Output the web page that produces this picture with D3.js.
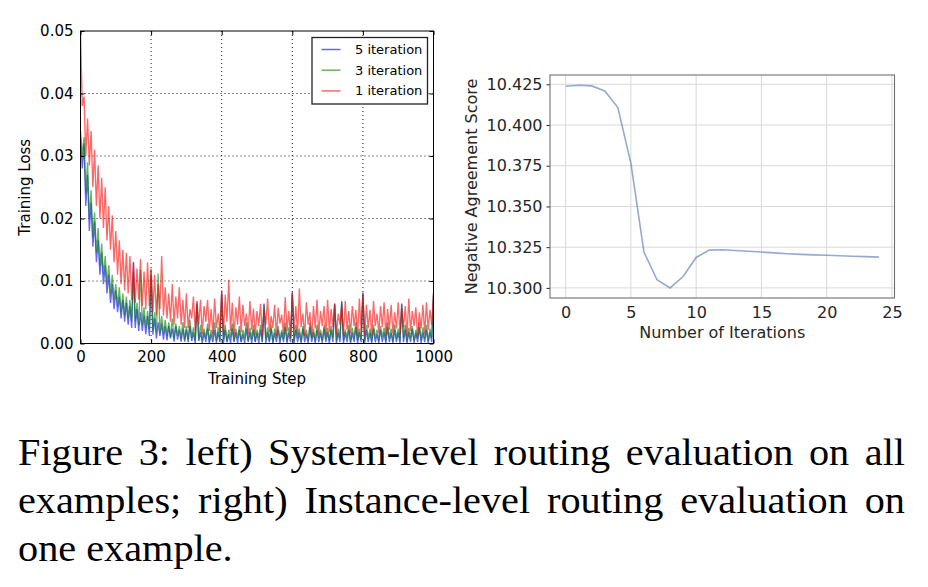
<!DOCTYPE html>
<html>
<head>
<meta charset="utf-8">
<script src="https://cdn.jsdelivr.net/npm/d3@7"></script>
<style>
body{margin:0;background:#fff}
svg{display:block}
</style>
</head>
<body>
<svg id="fig" width="928" height="587"></svg>
<script>
// ---- left panel: training loss (values in units of 1e-4, one every 5 steps)
const lossUnit = 1e-4;
const steps = d3.range(0, 1001, 5);
const stepTicks = [0, 200, 400, 600, 800, 1000];
const lossTicks = [0, 0.01, 0.02, 0.03, 0.04, 0.05];
const seriesNames = ['5 iteration', '3 iteration', '1 iteration'];

const loss5 = [330,280,320,220,270,180,225,155,195,130,165,110,145,95,125,80,110,65,95,55,
 85,50,75,40,70,35,65,30,60,25,130,25,55,20,50,20,45,15,44,12,
 108,14,40,8,34,12,32,6,28,5,28,8,24,3,28,6,22,3,24,3,
 22,2,28,4,18,1,68,4,18,1,18,2,24,1,15,2,22,1,18,2,
 82,1,22,2,15,1,24,2,18,1,22,2,15,1,24,2,18,1,22,2,
 17,1,22,2,64,1,18,2,24,1,17,2,22,1,18,2,26,1,17,2,
 82,1,22,2,17,1,24,2,15,1,26,2,18,1,22,2,17,1,24,2,
 18,1,22,2,64,1,17,2,68,1,18,2,22,1,17,2,26,1,18,2,
 82,1,22,2,17,1,24,2,15,1,22,2,18,1,26,2,17,1,22,2,
 18,1,64,2,22,1,18,2,24,1,17,2,26,1,18,2,22,1,18,2,
 82];
const loss3 = [340,300,330,240,290,200,245,170,210,145,185,125,160,110,140,95,125,80,110,70,
 95,60,90,50,80,45,75,40,70,35,115,35,65,30,118,30,58,25,52,22,
 118,20,50,18,112,16,44,15,38,12,34,10,40,8,32,12,28,8,34,6,
 28,6,38,9,26,4,62,6,30,4,24,8,32,3,22,10,34,4,26,5,
 78,6,30,3,22,10,32,4,24,8,28,3,22,9,34,4,25,7,30,3,
 22,9,30,3,62,6,26,4,30,2,24,9,28,4,22,7,34,3,26,8,
 78,4,30,9,24,3,28,10,22,4,34,8,24,3,30,9,22,4,30,7,
 25,4,28,9,62,3,24,8,66,4,22,9,30,3,25,8,34,4,24,6,
 78,4,30,8,24,3,30,9,22,4,28,10,25,4,34,8,24,3,30,7,
 24,4,62,8,30,3,25,9,28,4,22,8,34,4,26,8,30,4,24,9,
 78];
const loss1 = [500,380,395,300,360,285,340,250,310,220,285,200,265,185,250,165,220,150,205,130,
 180,110,165,95,150,85,145,80,140,70,130,65,120,70,135,60,115,55,130,60,
 120,50,110,45,95,55,140,45,90,40,80,35,95,30,75,40,90,30,70,25,
 80,25,55,40,75,20,65,30,70,15,60,35,70,20,55,15,72,25,48,18,
 85,15,78,35,102,20,65,12,58,30,75,18,62,28,48,15,68,22,56,14,
 52,28,63,12,55,30,72,18,44,25,62,12,57,32,46,15,74,20,52,10,
 82,22,60,14,88,26,48,12,66,30,50,10,60,24,70,15,52,28,60,12,
 70,18,55,26,64,14,48,30,62,12,68,22,52,16,60,28,54,12,72,20,
 80,14,62,24,54,12,68,28,48,16,60,26,66,12,55,22,62,16,50,24,
 66,14,56,26,60,12,72,20,52,28,58,10,50,24,62,16,66,22,54,30,
 78];

// ---- right panel: agreement score per routing iteration
const iterations = d3.range(0, 25);
const scores = [10.4238,10.4244,10.4240,10.4209,10.4107,10.3765,10.3220,10.3050,10.3000,10.3070,
 10.3187,10.3232,10.3234,10.3230,10.3225,10.3220,10.3215,10.3210,10.3206,10.3203,
 10.3200,10.3197,10.3194,10.3192,10.3189];
const iterTicks = [0, 5, 10, 15, 20, 25];
const scoreTicks = [10.300, 10.325, 10.350, 10.375, 10.400, 10.425];

const captionLines = [
  'Figure 3: left) System-level routing evaluation on all',
  'examples; right) Instance-level routing evaluation on',
  'one example.'
];

const svg = d3.select('#fig');
const sans = '"DejaVu Sans", sans-serif';

// ================= left chart =================
const L = {left:80.5, right:433.5, top:31, bottom:343.5};
const xL = d3.scaleLinear().domain([0, 1000]).range([L.left, L.right]);
const yL = d3.scaleLinear().domain([0, 0.05]).range([L.bottom, L.top]);
const gl = svg.append('g');

svg.append('clipPath').attr('id','clipL').append('rect')
  .attr('x', L.left).attr('y', L.top).attr('width', L.right-L.left).attr('height', L.bottom-L.top);

// dotted grid
gl.append('g').selectAll('line').data(stepTicks.slice(1, -1)).join('line')
  .attr('x1', d=>xL(d)).attr('x2', d=>xL(d)).attr('y1', L.top).attr('y2', L.bottom);
gl.append('g').selectAll('line').data(lossTicks.slice(1, -1)).join('line')
  .attr('x1', L.left).attr('x2', L.right).attr('y1', d=>yL(d)).attr('y2', d=>yL(d));
gl.selectAll('line').attr('stroke','#000').attr('stroke-width',0.9).attr('stroke-dasharray','1,3');

const lineL = d3.line().x((d,i)=>xL(steps[i])).y(d=>yL(d*lossUnit));
const lossColors = ['#0000ff', '#008000', '#ff0000'];
gl.append('g').attr('clip-path','url(#clipL)')
  .selectAll('path').data([loss5, loss3, loss1]).join('path')
  .attr('d', lineL).attr('fill','none').attr('stroke-linejoin','bevel')
  .attr('stroke', (d,i)=>lossColors[i]).attr('stroke-opacity',0.6).attr('stroke-width',1.35);

function styleAxis(g, size, color){
  g.select('.domain').remove();
  g.attr('font-family', sans).attr('font-size', size);
  g.selectAll('text').attr('fill', color);
  g.selectAll('line').attr('stroke', color);
}
gl.append('g').attr('transform',`translate(0,${L.bottom})`)
  .call(d3.axisBottom(xL).tickValues(stepTicks).tickSizeInner(-4).tickSizeOuter(0).tickPadding(8).tickFormat(d3.format('d')))
  .call(styleAxis, 15, '#000');
gl.append('g').attr('transform',`translate(0,${L.top})`)
  .call(d3.axisTop(xL).tickValues(stepTicks).tickSizeInner(-4).tickSizeOuter(0).tickFormat(''))
  .call(styleAxis, 15, '#000');
gl.append('g').attr('transform',`translate(${L.left},0)`)
  .call(d3.axisLeft(yL).tickValues(lossTicks).tickSizeInner(-4).tickSizeOuter(0).tickPadding(7).tickFormat(d3.format('.2f')))
  .call(styleAxis, 15, '#000');
gl.append('g').attr('transform',`translate(${L.right},0)`)
  .call(d3.axisRight(yL).tickValues(lossTicks).tickSizeInner(-4).tickSizeOuter(0).tickFormat(''))
  .call(styleAxis, 15, '#000');

gl.append('rect').attr('x', L.left).attr('y', L.top)
  .attr('width', L.right-L.left).attr('height', L.bottom-L.top)
  .attr('fill','none').attr('stroke','#000').attr('stroke-width',1);

gl.append('text').attr('x', (L.left+L.right)/2).attr('y', 384)
  .attr('text-anchor','middle').attr('font-family', sans).attr('font-size',15).text('Training Step');
gl.append('text').attr('transform',`translate(29.5,${(L.top+L.bottom)/2}) rotate(-90)`)
  .attr('text-anchor','middle').attr('font-family', sans).attr('font-size',15).text('Training Loss');

// legend
const leg = gl.append('g').attr('transform','translate(312,37.5)');
leg.append('rect').attr('width',115.5).attr('height',66.5)
  .attr('fill','#fff').attr('stroke','#222').attr('stroke-width',1.3);
const legRow = leg.selectAll('g').data(seriesNames).join('g')
  .attr('transform',(d,i)=>`translate(0,${12 + i*20.7})`);
legRow.append('line').attr('x1',9.5).attr('x2',28.5)
  .attr('stroke',(d,i)=>lossColors[i]).attr('stroke-opacity',0.6).attr('stroke-width',1.5);
legRow.append('text').attr('x',43).attr('dy','0.35em')
  .attr('font-family', sans).attr('font-size',13).text(d=>d);

// ================= right chart =================
const R = {left:550, right:894.5, top:75, bottom:298};
const xR = d3.scaleLinear().domain([-1.2, 25.2]).range([R.left, R.right]);
const yR = d3.scaleLinear().domain([10.2938, 10.4307]).range([R.bottom, R.top]);
const gr = svg.append('g');
const ink = '#262626';

gr.append('g').selectAll('line').data(iterTicks).join('line')
  .attr('x1', d=>xR(d)).attr('x2', d=>xR(d)).attr('y1', R.top).attr('y2', R.bottom)
  .attr('stroke','#d9d9d9').attr('stroke-width',1);
gr.append('g').selectAll('line').data(scoreTicks).join('line')
  .attr('x1', R.left).attr('x2', R.right).attr('y1', d=>yR(d)).attr('y2', d=>yR(d))
  .attr('stroke','#d9d9d9').attr('stroke-width',1);

gr.append('path').datum(scores)
  .attr('d', d3.line().x((d,i)=>xR(iterations[i])).y(d=>yR(d)))
  .attr('fill','none').attr('stroke','#4c72b0').attr('stroke-opacity',0.6).attr('stroke-width',1.6);

gr.append('g').attr('transform',`translate(0,${R.bottom})`)
  .call(d3.axisBottom(xR).tickValues(iterTicks).tickSizeInner(0).tickSizeOuter(0).tickPadding(8.5))
  .call(styleAxis, 16, ink);
gr.append('g').attr('transform',`translate(${R.left},0)`)
  .call(d3.axisLeft(yR).tickValues(scoreTicks).tickSizeInner(3.5).tickSizeOuter(0).tickPadding(4).tickFormat(d3.format('.3f')))
  .call(styleAxis, 16, ink);

gr.append('rect').attr('x', R.left).attr('y', R.top)
  .attr('width', R.right-R.left).attr('height', R.bottom-R.top)
  .attr('fill','none').attr('stroke','#707070').attr('stroke-width',1.1);

gr.append('text').attr('x', (R.left+R.right)/2).attr('y', 338)
  .attr('text-anchor','middle').attr('font-family', sans).attr('font-size',16).attr('fill',ink)
  .text('Number of Iterations');
gr.append('text').attr('transform',`translate(476.5,${(R.top+R.bottom)/2}) rotate(-90)`)
  .attr('text-anchor','middle').attr('font-family', sans).attr('font-size',16).attr('fill',ink)
  .text('Negative Agreement Score');

// ================= caption =================
// the printed Times face is a touch wider than Liberation Serif
const capLeft = 18, capRight = 905, capStretch = 1.06;
const cap = svg.append('g').attr('transform',`translate(${capLeft},0) scale(${capStretch},1)`)
  .attr('font-family','"Liberation Serif", "Times New Roman", serif')
  .attr('font-size',38).attr('fill','#000');
captionLines.forEach((t, i) => {
  const txt = cap.append('text').attr('x', 0).attr('y', 465 + i*48).text(t);
  if (i < captionLines.length - 1) {
    const natural = txt.node().getComputedTextLength();
    const gaps = (t.match(/ /g) || []).length;
    txt.attr('word-spacing', ((capRight - capLeft) / capStretch - natural) / gaps);
  }
});
</script>
</body>
</html>
